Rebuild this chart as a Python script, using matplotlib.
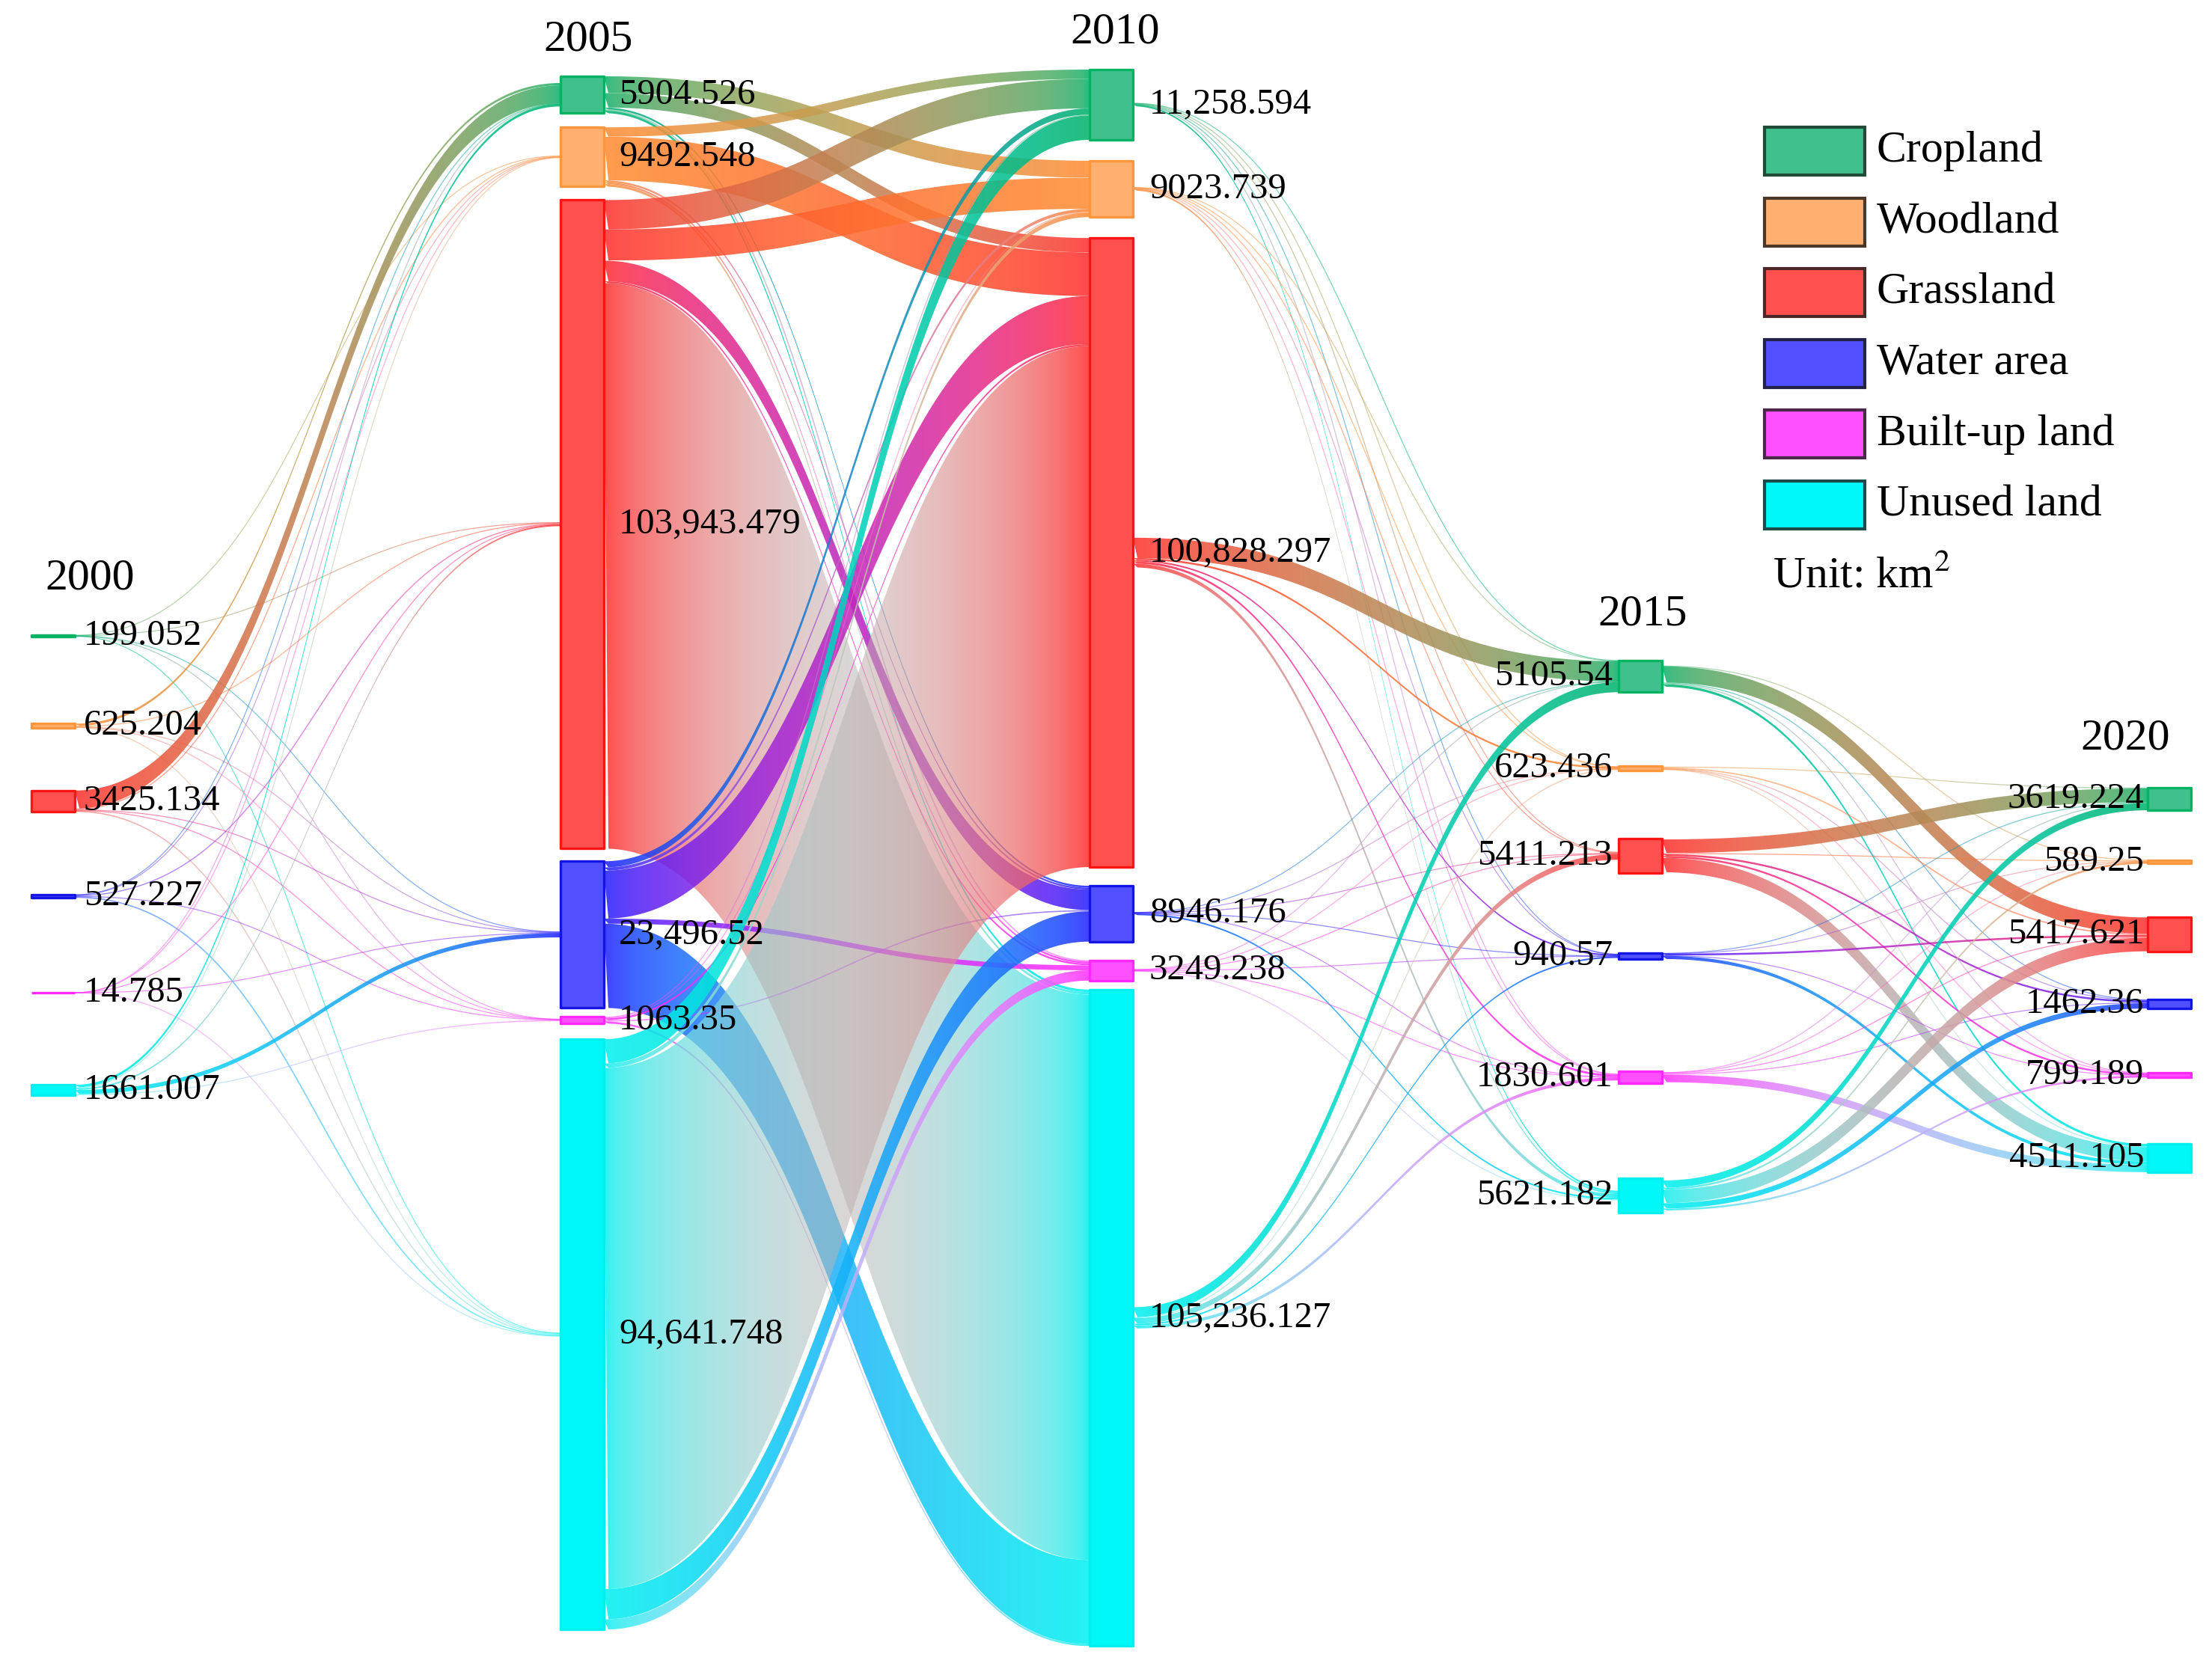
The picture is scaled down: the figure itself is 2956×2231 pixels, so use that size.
import numpy as np
import matplotlib.pyplot as plt
from matplotlib.collections import LineCollection
from matplotlib.patches import Rectangle, PathPatch
from matplotlib.path import Path
from matplotlib.colors import to_rgb

plt.rcParams['font.family'] = ['Liberation Serif', 'DejaVu Serif']
plt.rcParams['mathtext.fontset'] = 'stix'

# ---- data ----
years = ['2000', '2005', '2010', '2015', '2020']
classes = ['Cropland', 'Woodland', 'Grassland', 'Water area', 'Built-up land', 'Unused land']

node_2000 = [199.052, 625.204, 3425.134, 527.227, 14.785, 1661.007]
node_2005 = [5904.526, 9492.548, 103943.479, 23496.52, 1063.35, 94641.748]
node_2010 = [11258.594, 9023.739, 100828.297, 8946.176, 3249.238, 105236.127]
node_2015 = [5105.54, 623.436, 5411.213, 940.57, 1830.601, 5621.182]
node_2020 = [3619.224, 589.25, 5417.621, 1462.36, 799.189, 4511.105]

# transfer matrices, rows = source class, cols = target class (km2)
flow_00_05 = [
    [0, 20, 60, 40, 9.052, 70],
    [380, 0, 110, 40, 15.204, 80],
    [2900, 150, 0, 140, 60, 175.134],
    [60, 40, 170, 0, 57.227, 200],
    [2, 2, 5, 3, 0, 2.785],
    [420, 150, 250, 680, 161.007, 0],
]
flow_05_10 = [
    [0, 2700, 2300, 300, 204.526, 400],
    [1500, 0, 7000, 300, 292.548, 400],
    [4717.222, 5000, 0, 3300, 300, 90626.257],
    [1000, 500, 7700, 0, 800, 13496.52],
    [150, 100, 300, 200, 0, 313.35],
    [3891.372, 723.739, 83528.297, 4846.176, 1652.164, 0],
]
flow_10_15 = [
    [60, 30, 120, 20, 40, 250],
    [80, 20, 100, 20, 60, 280],
    [3250, 300, 0, 250, 350, 600],
    [40, 20, 60, 30, 40, 260],
    [60, 20, 80, 40, 30, 120],
    [1615.54, 150, 900, 250, 500, 0],
]
flow_15_20 = [
    [0, 80, 2600, 150, 120, 400],
    [120, 0, 200, 40, 40, 100],
    [2200, 150, 0, 300, 300, 2300],
    [60, 20, 300, 0, 40, 511.105],
    [80, 30, 150, 120, 0, 1200],
    [1159.224, 309.25, 2167.621, 852.36, 299.189, 0],
]

nodes = [node_2000, node_2005, node_2010, node_2015, node_2020]
flows = [flow_00_05, flow_05_10, flow_10_15, flow_15_20]

# ---- colours ----
link_col = ['#00B26C', '#FF8C32', '#FF2E2E', '#2020FF', '#FF2EFF', '#00F0F0']
fill_col = ['#40C08C', '#FFB070', '#FF5050', '#5050FF', '#FF50FF', '#00F8F8']
edge_col = ['#00B464', '#FF963C', '#FF1414', '#1414E6', '#FF28FF', '#00F0F0']
legend_edge = ['#1F4A38', '#4A3728', '#4A2828', '#22224A', '#4A284A', '#1F4A4A']

# ---- layout (pixel space) ----
W, H = 2956, 2231
K = 0.00834          # px per km2
X0, DX, NW = 42, 707, 58


def stack(values, top, gaps):
    ys, y = [], top
    for v, g in zip(values, [0] + gaps):
        y += g
        ys.append(y + v * K / 2)
        y += v * K
    return ys


centers = [
    [850, 970, 1071, 1198, 1327, 1457],
    stack(node_2005, 102, [19, 18, 17, 12, 21]),
    stack(node_2010, 93, [28, 28, 25, 25, 12]),
    [904, 1027, 1144, 1278, 1440, 1598],
    [1068, 1152, 1249, 1342, 1437, 1548],
]


def to_lin(c):
    c = np.asarray(c)
    return np.where(c <= 0.04045, c / 12.92, ((c + 0.055) / 1.055) ** 2.4)


def to_srgb(c):
    c = np.clip(c, 0, 1)
    return np.where(c <= 0.0031308, c * 12.92, 1.055 * c ** (1 / 2.4) - 0.055)


def grad(s, t, u):
    a = to_lin(to_rgb(link_col[s]))
    b = to_lin(to_rgb(link_col[t]))
    lin = a[None, :] * (1 - u[:, None]) + b[None, :] * u[:, None]
    return to_srgb(lin)


fig = plt.figure(figsize=(W / 100, H / 100), dpi=100)
ax = fig.add_axes([0, 0, 1, 1])


def band(x0, x1, ya0, yb0, ya1, yb1, n=160):
    t = np.linspace(0, 1, n)
    sx = 1.5 * t * (1 - t) + t ** 3
    sy = 3 * t ** 2 - 2 * t ** 3
    x = x0 + (x1 - x0) * sx
    return x, ya0 + (ya1 - ya0) * sy, yb0 + (yb1 - yb0) * sy


for i, M in enumerate(flows):
    M = np.array(M, dtype=float)
    xs = X0 + DX * i + NW
    xt = X0 + DX * (i + 1)
    out_tot = M.sum(axis=1)
    in_tot = M.sum(axis=0)
    src_cur = [centers[i][s] - out_tot[s] * K / 2 for s in range(6)]
    tgt_cur = [centers[i + 1][t] - in_tot[t] * K / 2 for t in range(6)]
    for s in range(6):
        for t in range(6):
            v = M[s, t]
            if v <= 0:
                continue
            w = v * K
            y0, y1 = src_cur[s], tgt_cur[t]
            src_cur[s] += w
            tgt_cur[t] += w
            x, top, bot = band(xs, xt, y0, y0 + w, y1, y1 + w)
            if w < 2.0:
                u = (x - xs) / (xt - xs)
                um = (u[:-1] + u[1:]) / 2
                cols = np.column_stack([grad(s, t, um), np.full(len(um), 0.55)])
                mid = (top + bot) / 2
                pts = np.column_stack([x, mid])
                segs = np.stack([pts[:-1], pts[1:]], axis=1)
                ax.add_collection(LineCollection(segs, colors=cols,
                                                 linewidths=max(w, 1.2) * 0.72,
                                                 capstyle='butt', zorder=1))
                continue
            u = np.linspace(0, 1, 400)
            a_end = 0.86
            fade = np.clip((w - 60) / 450, 0, 1)
            a_mid = a_end - 0.32 * fade
            alpha = a_mid + (a_end - a_mid) * np.abs(2 * u - 1) ** 1.4
            img = np.column_stack([grad(s, t, u), alpha])[None, :, :]
            verts = np.concatenate([np.column_stack([x, top]),
                                    np.column_stack([x[::-1], bot[::-1]])])
            clip = PathPatch(Path(verts, closed=True), transform=ax.transData,
                             facecolor='none', edgecolor='none')
            ymin = min(top.min(), bot.min())
            ymax = max(top.max(), bot.max())
            im = ax.imshow(img, extent=[xs, xt, ymax, ymin], aspect='auto',
                           interpolation='bilinear', zorder=1)
            im.set_clip_path(clip)

# ---- nodes and labels ----
label_dx = [12, 20, 22, -8, -5]
for i, vals in enumerate(nodes):
    x = X0 + DX * i
    for j, v in enumerate(vals):
        h = v * K
        c = centers[i][j]
        ax.add_patch(Rectangle((x, c - h / 2), NW, h, facecolor=fill_col[j],
                               edgecolor=edge_col[j], lw=2.4, joinstyle='round', zorder=3))
        txt = f"{v:,}" if v >= 10000 else f"{v}"
        if i < 3:
            ax.text(x + NW + label_dx[i], c, txt, fontsize=35, ha='left',
                    va='center', zorder=5)
        else:
            ax.text(x + label_dx[i], c, txt, fontsize=35, ha='right',
                    va='center', zorder=5)

title_pos = [(120, 773), (786, 53), (1490, 44), (2195, 821), (2840, 987)]
for yr, (tx, ty) in zip(years, title_pos):
    ax.text(tx, ty, yr, fontsize=43, ha='center', va='center', zorder=5)

# ---- legend ----
for j, name in enumerate(classes):
    cy = 202 + 94.6 * j
    ax.add_patch(Rectangle((2358, cy - 32), 134, 64, facecolor=fill_col[j],
                           edgecolor=legend_edge[j], lw=3, zorder=4))
    ax.text(2508, cy, name, fontsize=43, ha='left', va='center', zorder=5)
ax.text(2369, 770, 'Unit: km$^{2}$', fontsize=43, ha='left', va='center', zorder=5)

ax.set_xlim(0, W)
ax.set_ylim(H, 0)
ax.axis('off')
fig.savefig('out.png', dpi=100, facecolor='white')
